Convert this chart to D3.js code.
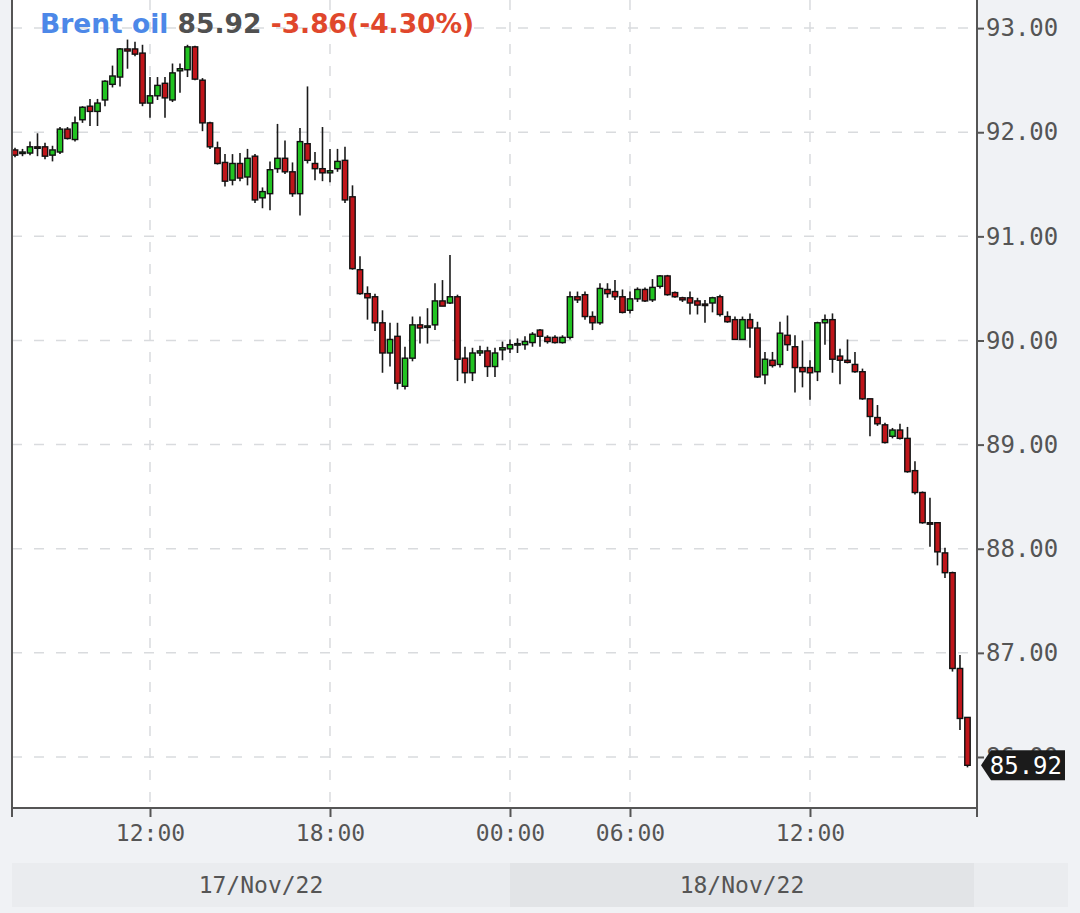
<!DOCTYPE html>
<html>
<head>
<meta charset="utf-8">
<script src="https://cdn.jsdelivr.net/npm/d3@7"></script>
<style>
  html, body { margin: 0; padding: 0; background: #f0f2f5; }
  svg { display: block; }
</style>
</head>
<body>
<svg id="chart" width="1080" height="913"></svg>
<script>
// Brent oil, 15-minute candles, 17-18 Nov 2022
const opens = [91.83,91.80,91.80,91.86,91.86,91.78,91.81,92.03,91.93,92.12,92.25,92.20,92.31,92.46,92.53,92.80,92.80,92.76,92.28,92.35,
  92.47,92.31,92.59,92.60,92.82,92.50,92.09,91.85,91.71,91.54,91.70,91.57,91.77,91.37,91.41,91.65,91.75,91.62,91.41,91.89,
  91.70,91.65,91.61,91.65,91.73,91.38,90.68,90.45,90.42,90.17,89.88,90.04,89.56,89.83,90.15,90.13,90.15,90.38,90.36,90.42,
  89.83,89.69,89.88,89.90,89.75,89.91,89.92,89.96,89.96,89.98,90.10,90.03,90.03,89.98,90.03,90.42,90.44,90.23,90.17,90.49,
  90.47,90.42,90.29,90.40,90.49,90.39,90.52,90.62,90.46,90.41,90.41,90.38,90.35,90.36,90.42,90.23,90.20,90.01,90.20,90.12,
  89.67,89.81,89.77,90.05,89.94,89.74,89.74,89.70,90.17,90.20,89.85,89.81,89.77,89.70,89.44,89.26,89.19,89.08,89.14,89.06,
  88.75,88.54,88.25,88.25,87.96,87.77,86.85,86.38];
const highs = [91.85,91.84,91.91,91.99,91.90,91.87,92.05,92.05,92.15,92.25,92.32,92.32,92.50,92.64,92.81,92.89,92.87,92.84,92.53,92.53,
  92.53,92.66,92.66,92.84,92.83,92.52,92.10,91.91,91.79,91.79,91.80,91.84,91.79,91.47,91.72,92.08,91.92,91.71,92.04,92.44,
  91.81,92.05,91.84,91.84,91.86,91.49,90.81,90.52,90.45,90.29,90.17,90.17,89.94,90.23,90.23,90.31,90.55,90.58,90.82,90.44,
  89.94,89.93,89.95,89.94,89.93,89.99,90.01,90.02,90.04,90.08,90.11,90.05,90.05,90.05,90.47,90.47,90.47,90.28,90.55,90.55,
  90.58,90.49,90.47,90.51,90.51,90.59,90.63,90.63,90.47,90.42,90.47,90.41,90.39,90.42,90.44,90.28,90.23,90.23,90.26,90.18,
  89.89,89.89,90.18,90.24,90.05,90.00,89.81,90.18,90.25,90.26,89.92,90.01,89.89,89.73,89.44,89.38,89.21,89.16,89.20,89.17,
  88.84,88.55,88.49,88.25,88.01,87.78,86.98,86.38];
const lows = [91.76,91.77,91.78,91.77,91.74,91.72,91.79,91.93,91.91,92.09,92.06,92.06,92.25,92.43,92.44,92.61,92.73,92.25,92.14,92.31,
  92.14,92.29,92.38,92.53,92.50,92.01,91.84,91.69,91.48,91.49,91.53,91.49,91.32,91.27,91.25,91.61,91.60,91.38,91.20,91.70,
  91.54,91.53,91.52,91.62,91.32,90.68,90.44,90.20,90.09,89.69,89.75,89.53,89.53,89.80,89.97,89.97,90.10,90.33,90.35,89.61,
  89.59,89.61,89.85,89.65,89.65,89.81,89.88,89.88,89.91,89.94,89.94,89.97,89.97,89.97,90.01,90.36,90.20,90.10,90.15,90.41,
  90.39,90.26,90.26,90.37,90.37,90.37,90.50,90.43,90.41,90.37,90.25,90.25,90.17,90.27,90.23,90.17,90.01,90.01,89.93,89.64,
  89.58,89.74,89.74,89.90,89.50,89.55,89.43,89.61,89.96,89.69,89.58,89.78,89.69,89.43,89.08,89.18,89.01,89.06,89.05,88.73,
  88.52,88.24,88.02,87.84,87.72,86.82,86.26,85.90];
const closes = [91.78,91.81,91.86,91.85,91.77,91.83,92.03,91.94,92.09,92.24,92.20,92.28,92.49,92.54,92.80,92.78,92.75,92.28,92.35,92.45,
  92.33,92.57,92.61,92.82,92.51,92.09,91.86,91.70,91.53,91.70,91.56,91.75,91.35,91.43,91.64,91.75,91.62,91.41,91.91,91.73,
  91.65,91.61,91.63,91.72,91.35,90.69,90.45,90.41,90.17,89.88,90.01,89.59,89.83,90.15,90.12,90.14,90.38,90.33,90.42,89.82,
  89.69,89.88,89.90,89.75,89.88,89.93,89.96,89.97,89.99,90.06,90.04,89.99,89.98,90.03,90.42,90.39,90.23,90.17,90.50,90.45,
  90.42,90.27,90.40,90.49,90.38,90.51,90.62,90.44,90.42,90.39,90.36,90.34,90.34,90.41,90.25,90.18,90.01,90.20,90.12,89.65,
  89.82,89.76,90.07,89.96,89.74,89.70,89.69,90.17,90.20,89.82,89.81,89.79,89.70,89.44,89.27,89.20,89.02,89.14,89.06,88.74,
  88.54,88.25,88.24,87.97,87.77,86.85,86.37,85.92];

const priceTicks = [86, 87, 88, 89, 90, 91, 92, 93];
const timeTicks = ["12:00", "18:00", "00:00", "06:00", "12:00"];
const dayLabels = ["17/Nov/22", "18/Nov/22"];
const title = { name: "Brent oil", last: "85.92", change: "-3.86(-4.30%)" };

// candle times: 15 minute steps from 17 Nov 07:30, market shut 01:00-03:00 on 18 Nov
const candleTimes = [];
for (let t = new Date(2022, 10, 17, 7, 30); candleTimes.length < closes.length; t = new Date(t.getTime() + 15 * 60000)) {
  if (t.getDate() === 18 && t.getHours() >= 1 && t.getHours() < 3) continue;
  candleTimes.push(t);
}
const candles = closes.map((c, i) => ({ i, o: opens[i], h: highs[i], l: lows[i], c, t: candleTimes[i] }));

const W = 1080, H = 913;
const plot = { left: 12, right: 977, top: 0, bottom: 808 };
const svg = d3.select("#chart");
const mono = "'DejaVu Sans Mono', monospace";

const x = d3.scaleLinear().domain([-0.4, 128.27]).range([plot.left, plot.right]);
const y = d3.scaleLinear().domain([85.51, 93.27]).range([plot.bottom, plot.top]);

// backgrounds
svg.append("rect").attr("width", W).attr("height", H).attr("fill", "#f0f2f5");
svg.append("rect").attr("x", plot.left).attr("y", plot.top)
  .attr("width", plot.right - plot.left).attr("height", plot.bottom - plot.top).attr("fill", "#ffffff");

// tick positions from candle times
const fmtHM = d3.timeFormat("%H:%M");
const tickIdx = [];
let k = 0;
candles.forEach(d => {
  if (k < timeTicks.length && fmtHM(d.t) === timeTicks[k]) { tickIdx.push(d.i); k++; }
});
const dayBreak = candles.find(d => d.t.getDate() === 18).i;

// grid
const grid = svg.append("g").attr("stroke", "#d9dbde").attr("stroke-width", 1.5).attr("stroke-dasharray", "10,12");
grid.selectAll("line.h").data(priceTicks).join("line")
  .attr("x1", plot.left).attr("x2", plot.right)
  .attr("y1", d => y(d)).attr("y2", d => y(d));
grid.selectAll("line.v").data(tickIdx).join("line")
  .attr("x1", d => x(d)).attr("x2", d => x(d))
  .attr("y1", plot.top).attr("y2", plot.bottom);

// candles
const cg = svg.append("g");
const bodyW = 5.4;
cg.selectAll("line").data(candles).join("line")
  .attr("x1", d => x(d.i)).attr("x2", d => x(d.i))
  .attr("y1", d => y(d.h)).attr("y2", d => y(d.l))
  .attr("stroke", "#1a1a1a").attr("stroke-width", 1.6);
cg.selectAll("rect").data(candles).join("rect")
  .attr("x", d => x(d.i) - bodyW / 2)
  .attr("y", d => y(Math.max(d.o, d.c)))
  .attr("width", bodyW)
  .attr("height", d => Math.max(1.5, Math.abs(y(d.o) - y(d.c))))
  .attr("fill", d => d.c >= d.o ? "#22c322" : "#bf151a")
  .attr("stroke", "#111").attr("stroke-width", 1.4);

// axes frame
svg.append("line").attr("x1", plot.left).attr("x2", plot.left).attr("y1", plot.top).attr("y2", plot.bottom)
  .attr("stroke", "#555").attr("stroke-width", 2);

const yAxis = svg.append("g").attr("transform", `translate(${plot.right},0)`)
  .call(d3.axisRight(y).tickValues(priceTicks).tickFormat(d3.format(".2f")).tickSize(7).tickPadding(2));
yAxis.select(".domain").attr("stroke", "#555").attr("stroke-width", 2).attr("d", `M0,${plot.top}V${plot.bottom}`);
yAxis.selectAll(".tick line").attr("stroke", "#555").attr("stroke-width", 2);
yAxis.selectAll(".tick text").attr("font-family", mono).attr("font-size", 24).attr("fill", "#555");

const xAxis = svg.append("g").attr("transform", `translate(0,${plot.bottom})`)
  .call(d3.axisBottom(x).tickValues(tickIdx).tickFormat((d, i) => timeTicks[i]).tickSize(9).tickPadding(8));
xAxis.select(".domain").attr("stroke", "#555").attr("stroke-width", 2)
  .attr("d", `M${plot.left},9V0H${plot.right}V9`);
xAxis.selectAll(".tick line").attr("stroke", "#555").attr("stroke-width", 2);
xAxis.selectAll(".tick text").attr("font-family", mono).attr("font-size", 23).attr("fill", "#555");

// day bars
const dayEdges = [plot.left, x(dayBreak), plot.right - 3];
svg.append("rect").attr("x", plot.left).attr("y", 863).attr("width", 1068 - plot.left).attr("height", 44).attr("fill", "#eaecef");
const days = svg.append("g").selectAll("g").data(dayLabels).join("g");
days.append("rect")
  .attr("x", (d, i) => dayEdges[i]).attr("y", 863)
  .attr("width", (d, i) => dayEdges[i + 1] - dayEdges[i]).attr("height", 44)
  .attr("fill", (d, i) => i === 0 ? "#eaecef" : "#e2e4e7");
days.append("text")
  .attr("x", (d, i) => (dayEdges[i] + dayEdges[i + 1]) / 2).attr("y", 893)
  .attr("text-anchor", "middle").attr("font-family", mono).attr("font-size", 23).attr("fill", "#555")
  .text(d => d);

// last price tag (covers the 86.00 label as in the original)
const last = candles[candles.length - 1];
const ly = y(last.c);
svg.append("path")
  .attr("d", `M${plot.right + 4},${ly} L${plot.right + 14},${ly - 15} H1065 V${ly + 15} H${plot.right + 14} Z`)
  .attr("fill", "#1b1b1b");
svg.append("text").attr("x", 1062).attr("y", ly + 8.5).attr("text-anchor", "end")
  .attr("font-family", mono).attr("font-size", 24).attr("fill", "#ffffff").text(d3.format(".2f")(last.c));

// title
const tt = svg.append("text").attr("x", 40).attr("y", 33)
  .attr("font-family", "'DejaVu Sans', sans-serif").attr("font-weight", "bold").attr("font-size", 26.5);
tt.append("tspan").attr("fill", "#4d88e8").text(title.name + " ");
tt.append("tspan").attr("fill", "#505050").text(title.last + " ");
tt.append("tspan").attr("fill", "#e0472c").text(title.change);
</script>
</body>
</html>
